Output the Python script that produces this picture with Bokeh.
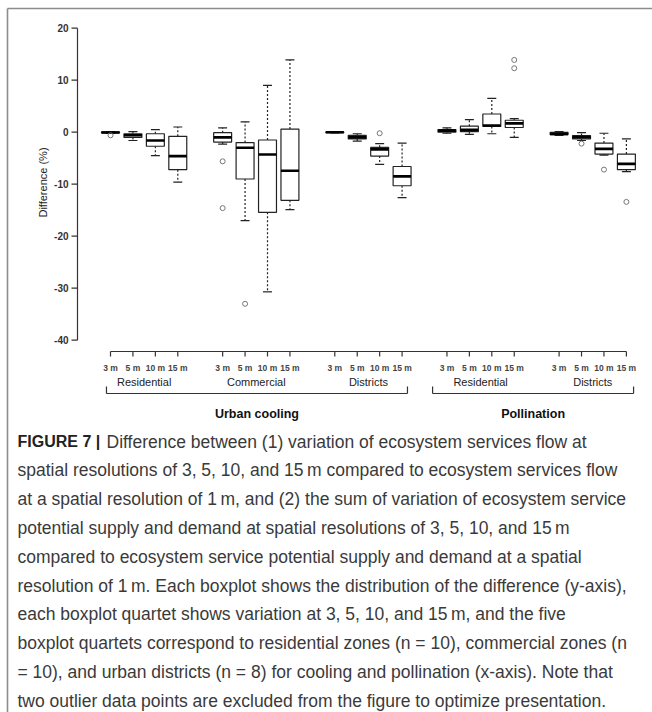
import numpy as np
from bokeh.plotting import figure
from bokeh.models import Range1d, ColumnDataSource
from bokeh.core.properties import value
from bokeh.embed import file_html
from bokeh.resources import INLINE

# ---------------- data ----------------
resolutions = ["3 m", "5 m", "10 m", "15 m"]
groups = ["Residential", "Commercial", "Districts", "Residential", "Districts"]
services = ["Urban cooling", "Pollination"]
group_service = [0, 0, 0, 1, 1]

# one entry per box (group-major, resolution-minor)
whisker_low = [-0.2, -1.6, -4.5, -9.6,
               -2.3, -17.0, -30.7, -14.9,
               -0.15, -1.7, -6.2, -12.6,
               -0.2, -0.4, -0.3, -1.0,
               -0.6, -1.6, -4.4, -7.6]
q1 = [-0.15, -1.0, -2.7, -7.2,
      -1.9, -9.0, -15.4, -13.1,
      -0.1, -1.3, -4.6, -10.3,
      0.0, 0.1, 1.1, 0.9,
      -0.45, -1.3, -4.2, -7.2]
median = [-0.05, -0.6, -1.6, -4.6,
          -1.0, -3.0, -4.3, -7.4,
          0.0, -1.0, -3.3, -8.5,
          0.3, 0.45, 1.3, 1.7,
          -0.35, -0.95, -3.2, -6.1]
q3 = [0.05, -0.3, -0.3, -0.8,
      -0.1, -2.0, -1.5, 0.6,
      0.05, -0.6, -2.9, -6.6,
      0.5, 1.15, 3.5, 2.3,
      -0.05, -0.65, -2.1, -4.2]
whisker_high = [0.1, 0.1, 0.5, 1.0,
                0.85, 2.0, 9.0, 13.9,
                0.1, -0.3, -2.2, -2.1,
                0.85, 2.4, 6.5, 2.6,
                0.1, -0.1, -0.2, -1.3]
outlier_box = [0, 4, 4, 5, 10, 15, 15, 17, 18, 19]
outlier_value = [-0.6, -5.6, -14.6, -33.0, -0.2, 12.3, 13.9, -2.2, -7.2, -13.4]

y_ticks = [20, 10, 0, -10, -20, -30, -40]
y_label = "Difference (%)"

caption_bold = "FIGURE 7 |"
caption_lines = [
    "Difference between (1) variation of ecosystem services flow at",
    "spatial resolutions of 3, 5, 10, and 15\u2009m compared to ecosystem services flow",
    "at a spatial resolution of 1\u2009m, and (2) the sum of variation of ecosystem service",
    "potential supply and demand at spatial resolutions of 3, 5, 10, and 15\u2009m",
    "compared to ecosystem service potential supply and demand at a spatial",
    "resolution of 1\u2009m. Each boxplot shows the distribution of the difference (y-axis),",
    "each boxplot quartet shows variation at 3, 5, 10, and 15\u2009m, and the five",
    "boxplot quartets correspond to residential zones (n = 10), commercial zones (n",
    "= 10), and urban districts (n = 8) for cooling and pollination (x-axis). Note that",
    "two outlier data points are excluded from the figure to optimize presentation.",
]

# ---------------- layout helpers ----------------
W, H = 652, 712
PAGE_X0, PAGE_Y0 = 0, 0
POS1_PX, PX_PER_POS = 110.0, 22.43
ZERO_PY, PX_PER_UNIT = 131.7, 5.2


def px2x(px):
    return 1 + (px - POS1_PX) / PX_PER_POS


def py2y(py):
    return (ZERO_PY - py) / PX_PER_UNIT


n_res = len(resolutions)
positions = [g * (n_res + 1) + r + 1 for g in range(len(groups)) for r in range(n_res)]
tick_labels = [resolutions[r] for g in range(len(groups)) for r in range(n_res)]

p = figure(width=W, height=H, output_backend="svg", toolbar_location=None,
           x_range=Range1d(px2x(PAGE_X0), px2x(PAGE_X0 + W)),
           y_range=Range1d(py2y(PAGE_Y0 + H), py2y(PAGE_Y0)),
           x_axis_location=None, y_axis_location=None, min_border=0)
p.outline_line_color = None
p.grid.grid_line_color = None
p.background_fill_color = "white"
p.border_fill_color = "white"

FONT = value("Liberation Sans")
INK = "#222222"

# outer figure frame (top & left edges)
p.segment(x0=[px2x(7), px2x(7)], y0=[py2y(8), py2y(8)],
          x1=[px2x(W), px2x(7)], y1=[py2y(8), py2y(H)],
          line_color="#8c8c8c", line_width=1.6)

# ---------------- boxes ----------------
BW, CW = 0.4, 0.2
src = ColumnDataSource(dict(
    x=positions, lo=whisker_low, q1=q1, med=median, q3=q3, hi=whisker_high,
    left=[x - BW for x in positions], right=[x + BW for x in positions],
    cl=[x - CW for x in positions], cr=[x + CW for x in positions],
))
p.segment(x0="x", y0="q3", x1="x", y1="hi", source=src, line_color=INK,
          line_width=1.2, line_dash="2 2")
p.segment(x0="x", y0="q1", x1="x", y1="lo", source=src, line_color=INK,
          line_width=1.2, line_dash="2 2")
p.segment(x0="cl", y0="hi", x1="cr", y1="hi", source=src, line_color=INK, line_width=1.2)
p.segment(x0="cl", y0="lo", x1="cr", y1="lo", source=src, line_color=INK, line_width=1.2)
p.quad(left="left", right="right", bottom="q1", top="q3", source=src,
       fill_color="white", line_color=INK, line_width=1.2)
p.segment(x0="left", y0="med", x1="right", y1="med", source=src,
          line_color="black", line_width=2.6)

p.scatter(x=[positions[i] for i in outlier_box], y=outlier_value, marker="circle",
          size=5, fill_color=None, line_color="#777777", line_width=1.0)

# ---------------- y axis ----------------
ax_x = px2x(77)
p.segment(x0=[ax_x], y0=[min(y_ticks)], x1=[ax_x], y1=[max(y_ticks)],
          line_color="#333333", line_width=1.2)
p.segment(x0=[px2x(71)] * len(y_ticks), y0=y_ticks, x1=[ax_x] * len(y_ticks), y1=y_ticks,
          line_color="#333333", line_width=1.2)
p.text(x=[px2x(68)] * len(y_ticks), y=y_ticks, text=[str(t) for t in y_ticks],
       text_align="right", text_baseline="middle", text_font=FONT,
       text_font_size="10px", text_font_style="bold", text_color="#333333")
p.text(x=[px2x(42)], y=[py2y(182)], text=[y_label], angle=np.pi / 2,
       text_align="center", text_baseline="middle", text_font=FONT,
       text_font_size="11px", text_color="#222222")

# ---------------- x axis ----------------
xa_y = py2y(351)
p.segment(x0=[min(positions)], y0=[xa_y], x1=[max(positions)], y1=[xa_y],
          line_color="#333333", line_width=1.2)
p.segment(x0=positions, y0=[xa_y] * len(positions), x1=positions,
          y1=[py2y(356)] * len(positions), line_color="#333333", line_width=1.2)
p.text(x=positions, y=[py2y(367)] * len(positions), text=tick_labels,
       text_align="center", text_baseline="middle", text_font=FONT,
       text_font_size="8.5px", text_font_style="bold", text_color="#444444")

# group labels
group_centers = [np.mean(positions[g * n_res:(g + 1) * n_res]) for g in range(len(groups))]
p.text(x=group_centers, y=[py2y(381)] * len(groups), text=groups,
       text_align="center", text_baseline="middle", text_font=FONT,
       text_font_size="11px", text_color="#222222")

# service brackets and labels
br_y, br_top = py2y(393), py2y(386)
svc_left, svc_right = [], []
for s in range(len(services)):
    gs = [g for g in range(len(groups)) if group_service[g] == s]
    lo_pos = positions[gs[0] * n_res]
    hi_pos = positions[gs[-1] * n_res + n_res - 1]
    svc_left.append(lo_pos - (0.18 if s == 0 else 0.64))
    svc_right.append(hi_pos + (0.24 if s == 0 else 0.32))
p.segment(x0=svc_left, y0=[br_y] * 2, x1=svc_right, y1=[br_y] * 2,
          line_color="#333333", line_width=1.2)
p.segment(x0=svc_left + svc_right, y0=[br_y] * 4, x1=svc_left + svc_right,
          y1=[br_top] * 4, line_color="#333333", line_width=1.2)
p.text(x=[(a + b) / 2 for a, b in zip(svc_left, svc_right)], y=[py2y(413)] * 2,
       text=services, text_align="center", text_baseline="middle", text_font=FONT,
       text_font_size="12.5px", text_font_style="bold", text_color="#111111")

# ---------------- caption ----------------
CAP_FONT = value("Liberation Sans")
CAP_SIZE = "17.5px"
line_y = [py2y(441 + 28.8 * i) for i in range(len(caption_lines))]
p.text(x=[px2x(17)], y=[line_y[0]], text=[caption_bold], text_align="left",
       text_baseline="middle", text_font=CAP_FONT, text_font_size="16px",
       text_font_style="bold", text_color="#222222")
cap_x = [px2x(106)] + [px2x(17)] * (len(caption_lines) - 1)
p.text(x=cap_x, y=line_y, text=caption_lines, text_align="left",
       text_baseline="middle", text_font=CAP_FONT, text_font_size=CAP_SIZE,
       text_color="#3a3a3a")

open("out.html", "w").write(file_html(p, INLINE))
